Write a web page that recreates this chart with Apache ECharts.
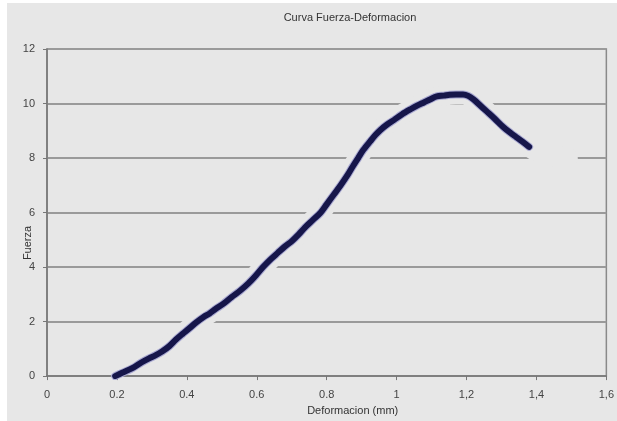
<!DOCTYPE html>
<html>
<head>
<meta charset="utf-8">
<script src="https://cdn.jsdelivr.net/npm/echarts@6/dist/echarts.min.js"></script>
<style>
  html, body { margin: 0; padding: 0; background: #ffffff; }
  #chart { width: 617px; height: 421px; }
</style>
</head>
<body>
<div id="chart"></div>
<script>
// Deformation (mm) and force readings of the test curve
const deformacion = [0.195, 0.215, 0.244, 0.27, 0.292, 0.31, 0.329, 0.35, 0.369, 0.388,
  0.406, 0.428, 0.448, 0.465, 0.482, 0.505, 0.528, 0.552, 0.576, 0.598,
  0.618, 0.641, 0.66, 0.68, 0.70, 0.72, 0.737, 0.76, 0.783, 0.80,
  0.82, 0.84, 0.86, 0.875, 0.89, 0.905, 0.925, 0.94, 0.953, 0.972,
  0.993, 1.015, 1.04, 1.06, 1.078, 1.097, 1.115, 1.135, 1.152, 1.17,
  1.19, 1.205, 1.22, 1.24, 1.257, 1.28, 1.305, 1.325, 1.342, 1.36, 1.379];
const fuerza = [0, 0.12, 0.29, 0.5, 0.65, 0.76, 0.9, 1.1, 1.34, 1.55,
  1.74, 1.98, 2.17, 2.3, 2.46, 2.66, 2.9, 3.13, 3.4, 3.7,
  4.0, 4.3, 4.52, 4.75, 4.95, 5.2, 5.44, 5.72, 6.0, 6.3,
  6.65, 7.0, 7.38, 7.7, 8.0, 8.3, 8.62, 8.85, 9.02, 9.22,
  9.4, 9.6, 9.79, 9.93, 10.04, 10.16, 10.26, 10.29, 10.32, 10.33,
  10.33, 10.28, 10.15, 9.92, 9.72, 9.45, 9.14, 8.93, 8.77, 8.6, 8.41];
// faint trailing readings after the last plotted point
const colaDeformacion = [1.40, 1.445, 1.49];
const colaFuerza = [8.24, 8.08, 8.02];

const xTickLabels = ['0', '0.2', '0.4', '0.6', '0.8', '1', '1,2', '1,4', '1,6'];
const yTickLabels = ['0', '2', '4', '6', '8', '10', '12'];

const pares = deformacion.map((x, i) => [x, fuerza[i]]);
// the clearing band starts a little above the x axis so the axis line stays intact
const paresHalo = pares.slice(3).concat(colaDeformacion.map((x, i) => [x, colaFuerza[i]]));

const fondo = '#e7e7e7';
const font = 'Liberation Sans, Arial, sans-serif';

const chart = echarts.init(document.getElementById('chart'), null, { renderer: 'canvas' });
chart.setOption({
  animation: false,
  backgroundColor: '#ffffff',
  graphic: [
    {
      type: 'rect', z: -10,
      shape: { x: 7, y: 3, width: 610, height: 418 },
      style: { fill: fondo }
    },
    {
      type: 'text', z: 10,
      x: 28, y: 243, rotation: Math.PI / 2,
      style: {
        text: 'Fuerza', fontFamily: font, fontSize: 11, fill: '#333',
        textAlign: 'center', textVerticalAlign: 'middle'
      }
    }
  ],
  title: {
    text: 'Curva Fuerza-Deformacion',
    left: 345, top: 7, textAlign: 'center',
    textStyle: { fontFamily: font, fontSize: 11, fontWeight: 'normal', color: '#333' }
  },
  grid: { left: 47, right: 6, top: 49, bottom: 41, show: true, backgroundColor: fondo,
          borderColor: '#8a8a8a', borderWidth: 1.5 },
  xAxis: {
    type: 'value', min: 0, max: 1.6, interval: 0.2,
    name: 'Deformacion (mm)', nameLocation: 'middle', nameGap: 25,
    nameTextStyle: { fontFamily: font, fontSize: 11, color: '#333', padding: [0, 0, 0, 52] },
    axisLine: { lineStyle: { color: '#777', width: 1.5 } },
    axisTick: { show: true, length: 4, lineStyle: { color: '#777' } },
    axisLabel: {
      fontFamily: font, fontSize: 11, color: '#444', margin: 13,
      formatter: v => xTickLabels[Math.round(v / 0.2)]
    },
    splitLine: { show: false }
  },
  yAxis: {
    type: 'value', min: 0, max: 12, interval: 2,
    axisLine: { show: true, lineStyle: { color: '#777', width: 1.5 } },
    axisTick: { show: true, length: 4, lineStyle: { color: '#777' } },
    axisLabel: {
      fontFamily: font, fontSize: 11, color: '#444', margin: 12,
      formatter: v => yTickLabels[Math.round(v / 2)]
    },
    splitLine: { show: true, lineStyle: { color: '#9a9a9a', width: 1.8 } }
  },
  series: [
    {
      // background-coloured band around the curve
      type: 'line', data: paresHalo, showSymbol: false, smooth: 0.3, z: 2,
      lineStyle: { color: fondo, width: 20, cap: 'round', join: 'round' },
      silent: true
    },
    {
      type: 'line', data: pares, showSymbol: false, smooth: 0.3, z: 3,
      lineStyle: { color: '#a9a9d2', width: 8, cap: 'round', join: 'round' },
      silent: true
    },
    {
      type: 'line', data: pares, showSymbol: false, smooth: 0.3, z: 4,
      lineStyle: { color: '#16164a', width: 6, cap: 'round', join: 'round' }
    }
  ]
});
</script>
</body>
</html>
